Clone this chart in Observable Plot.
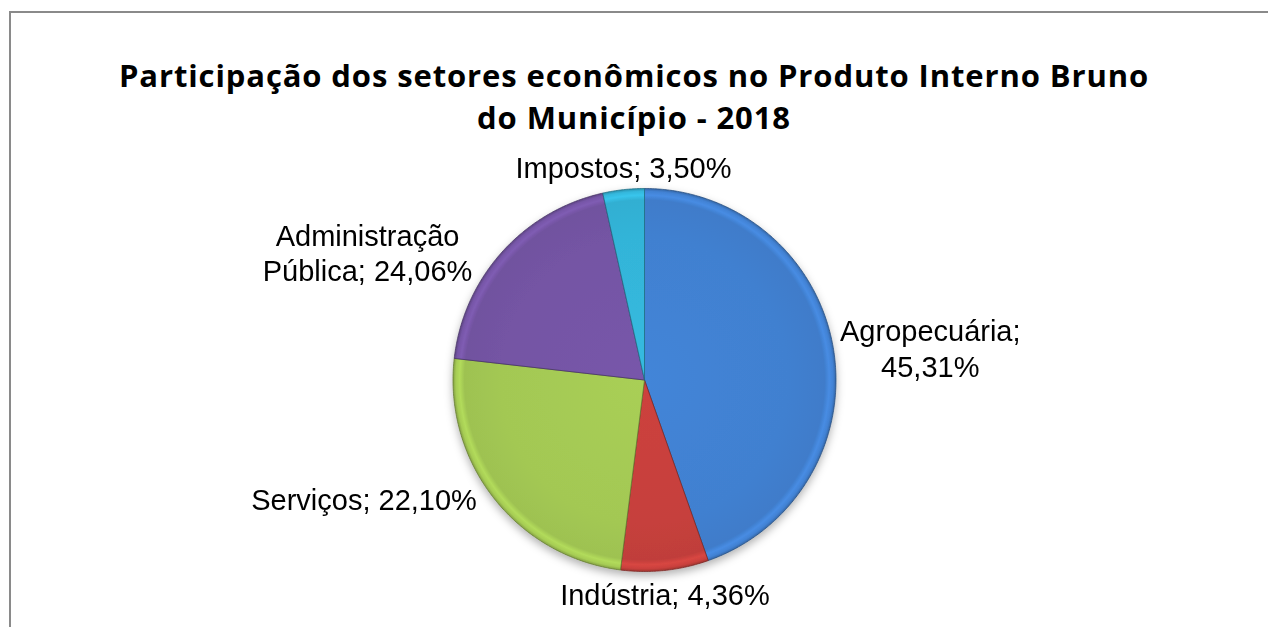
<!DOCTYPE html>
<html><head><meta charset="utf-8">
<script src="https://cdn.jsdelivr.net/npm/d3@7"></script>
<script src="https://cdn.jsdelivr.net/npm/@observablehq/plot@0.6"></script>
<style>
html,body{margin:0;padding:0;background:#fff;}
#chart{position:relative;width:1268px;height:627px;overflow:hidden;background:#fff;}
#frame{position:absolute;left:9px;top:11px;width:1300px;height:700px;border-left:2px solid #8a8a8a;border-top:2px solid #8a8a8a;box-sizing:border-box;}
#title{position:relative;height:140px;box-sizing:border-box;padding-top:53.5px;text-align:center;font-family:"Open Sans",Lato,sans-serif;font-weight:700;font-size:31px;color:#000;}
#title div{line-height:42.5px;height:42.5px;white-space:nowrap;}
#title span{display:inline-block;}
#plot{position:relative;}
</style></head><body>
<div id="chart"><div id="frame"></div><div id="title"><div><span id="t1"></span></div><div><span id="t2"></span></div></div><div id="plot"></div></div>
<script>
// ---- data ----
const categories = ["Agropecuária", "Indústria", "Serviços", "Administração Pública", "Impostos"];
// slice sizes as drawn in the picture (percent of the full circle)
const shares = [44.6, 7.4, 24.8, 19.7, 3.5];
// data labels as printed on the chart
const labels = ["Agropecuária;\n45,31%", "Indústria; 4,36%", "Serviços; 22,10%", "Administração\nPública; 24,06%", "Impostos; 3,50%"];
const palette = ["#4180D0", "#C6403C", "#A3C853", "#7454A4", "#33B4D8"];
const titleLines = ["Participação dos setores econômicos no Produto Interno Bruno", "do Município - 2018"];

// ---- title ----
const t1 = document.getElementById("t1"), t2 = document.getElementById("t2");
t1.textContent = titleLines[0]; t2.textContent = titleLines[1];
const w1 = t1.getBoundingClientRect().width;
const ls = (1030 - w1) / titleLines[0].length;
t1.style.letterSpacing = ls + "px"; t2.style.letterSpacing = ls + "px";

// ---- layout ----
const W = 1268, H = 487, R = 191.5, CX = 644, CY = 379.5 - 140;
const FS = 29, LH = 1.22, GAP = 4;

const data = categories.map((c, i) => ({name: c, share: shares[i], label: labels[i], color: palette[i], i}));
const arcs = d3.pie().sort(null).value(d => d.share).startAngle(0).endAngle(2 * Math.PI)(data);

const slicePoints = arcs.map(a => {
  const p = [{u: 0, v: 0}];
  const n = Math.max(2, Math.ceil((a.endAngle - a.startAngle) / (Math.PI / 360)));
  for (let k = 0; k <= n; k++) {
    const t = a.startAngle + (a.endAngle - a.startAngle) * k / n;
    p.push({u: Math.sin(t), v: Math.cos(t)});
  }
  p.push({u: 0, v: 0});
  return p;
});

// label placement: side labels pushed horizontally, top/bottom labels vertically, clear of the rim
const ctx = document.createElement("canvas").getContext("2d");
ctx.font = `${FS}px "Liberation Sans"`;
const labelData = arcs.map(a => {
  const t = (a.startAngle + a.endAngle) / 2;
  const lines = a.data.label.split("\n");
  const hw = d3.max(lines, l => ctx.measureText(l).width) / 2;
  const hh = lines.length * FS * LH / 2;
  const du = Math.sin(t), dv = Math.cos(t); // dv: up
  let px, py; // pixel offsets from centre (y up)
  const rr = R + GAP;
  if (Math.abs(du) > 0.5) {
    py = dv * R;
    const near = Math.max(0, Math.abs(py) - hh);
    const ext = Math.sqrt(Math.max(0, rr * rr - near * near));
    px = Math.sign(du) * (ext + hw);
  } else {
    px = du * R;
    const near = Math.max(0, Math.abs(px) - hw);
    const ext = Math.sqrt(Math.max(0, rr * rr - near * near));
    py = Math.sign(dv) * (ext + hh);
  }
  return {label: a.data.label, x: px / R, y: py / R};
});

const marks = arcs.map((a, i) => Plot.line(slicePoints[i], {
  x: "u", y: "v", fill: `url(#g${i})`,
  stroke: d3.color(a.data.color).darker(1.4).formatHex(), strokeWidth: 1, strokeOpacity: 0.75, curve: "linear"
}));
marks.push(Plot.text(labelData, {
  x: "x", y: "y", text: "label", fontSize: FS, fontFamily: "Liberation Sans, Arial, sans-serif",
  lineHeight: LH, textAnchor: "middle", lineAnchor: "middle", fill: "#000"
}));

const plot = Plot.plot({
  width: W, height: H, margin: 0,
  x: {domain: [(0 - CX) / R, (W - CX) / R], range: [0, W], axis: null},
  y: {domain: [(CY - H) / R, CY / R], range: [H, 0], axis: null},
  style: {background: "transparent", overflow: "visible"},
  marks
});

// gradients and shadow
const svg = d3.select(plot);
const xs = plot.scale("x"), ys = plot.scale("y");
const gx = xs.apply(0), gy = ys.apply(0), gr = xs.apply(1) - xs.apply(0);
const defs = svg.insert("defs", ":first-child");
data.forEach((d, i) => {
  const c = d3.color(d.color);
  const g = defs.append("radialGradient").attr("id", `g${i}`).attr("gradientUnits", "userSpaceOnUse")
    .attr("cx", gx).attr("cy", gy).attr("r", gr);
  const stops = [
    [0, c.brighter(0.1)], [0.75, c], [0.94, c.darker(0.08)], [0.965, c.brighter(0.25)],
    [0.985, c.brighter(0.05)], [1, c.darker(0.6)]
  ];
  stops.forEach(([o, col]) => g.append("stop").attr("offset", o).attr("stop-color", col.formatHex()));
});
const f = defs.append("filter").attr("id", "shadow").attr("x", "-20%").attr("y", "-20%").attr("width", "140%").attr("height", "140%");
f.append("feDropShadow").attr("dx", 0).attr("dy", 4).attr("stdDeviation", 4).attr("flood-color", "#000").attr("flood-opacity", 0.3);
const lineGroups = svg.selectAll('g[aria-label="line"]').nodes();
if (lineGroups.length) {
  const wrap = svg.insert("g", () => lineGroups[0]).attr("filter", "url(#shadow)");
  lineGroups.forEach(n => wrap.node().appendChild(n));
}

document.getElementById("plot").appendChild(plot);
</script>
</body></html>
